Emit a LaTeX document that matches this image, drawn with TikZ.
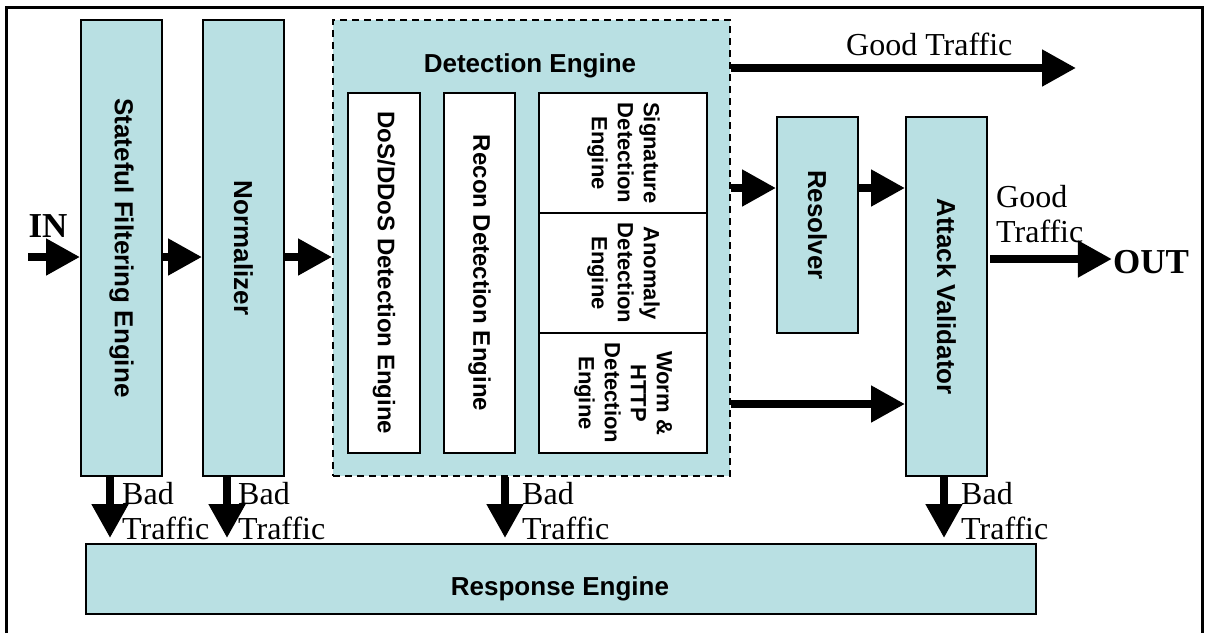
\documentclass[tikz,border=0pt]{standalone}
\usepackage{fontspec}
\setmainfont{Liberation Serif}
\newfontfamily\sansbold{Liberation Sans}
\usetikzlibrary{arrows.meta}
\definecolor{boxfill}{RGB}{185,224,227}

\begin{document}
\begin{tikzpicture}[x=1pt,y=-1pt,
  blk/.style={draw=black, line width=2pt, fill=boxfill, inner sep=0pt, anchor=north west,
    font=\sansbold\bfseries\fontsize{26}{30}\selectfont},
  sub/.style={blk, fill=white, font=\sansbold\bfseries\fontsize{24}{28}\selectfont},
  subm/.style={blk, fill=white, font=\sansbold\bfseries\fontsize{22}{26}\selectfont},
  title/.style={inner sep=0pt, font=\sansbold\bfseries\fontsize{26}{30}\selectfont},
  flow/.style={line width=8pt, -{Triangle[length=34pt,width=35pt]}},
  lbl/.style={font=\fontsize{32}{35}\selectfont, inner sep=0pt, align=left},
  io/.style={font=\bfseries\fontsize{35}{40}\selectfont, inner sep=1pt}
]
\useasboundingbox (0,0) rectangle (1207,633);
\fill[white] (0,0) rectangle (1207,633);

% outer frame (open at the bottom)
\draw[line width=3pt] (6.5,633) -- (6.5,7) -- (1202,7) -- (1202,633);

% main processing blocks
\node[blk, minimum width=81pt, minimum height=456pt] (sfe) at (80,19)
  {\rotatebox{-90}{Stateful Filtering Engine}};
\node[blk, minimum width=81pt, minimum height=456pt] (norm) at (202,19)
  {\rotatebox{-90}{Normalizer}};
\node[blk, line width=1.6pt, dash pattern=on 7pt off 5pt, minimum width=397pt, minimum height=456pt] (de) at (332,19) {};
\node[title] (detitle) at (530,65.5) {Detection Engine};

% sub-engines of the detection engine
\node[sub, minimum width=72pt, minimum height=360pt] (dos) at (347,92)
  {\rotatebox{-90}{DoS/DDoS Detection Engine}};
\node[sub, minimum width=71pt, minimum height=360pt] (recon) at (443,92)
  {\rotatebox{-90}{Recon Detection Engine}};
\node[subm, minimum width=168pt, minimum height=120pt] (sig) at (538,92)
  {\rotatebox{-90}{\begin{tabular}{@{}c@{}}Signature\\Detection\\Engine\end{tabular}}};
\node[subm, minimum width=168pt, minimum height=120pt] (ano) at (538,212)
  {\rotatebox{-90}{\begin{tabular}{@{}c@{}}Anomaly\\Detection\\Engine\end{tabular}}};
\node[subm, minimum width=168pt, minimum height=120pt] (worm) at (538,332)
  {\rotatebox{-90}{\begin{tabular}{@{}c@{}}Worm \&\\HTTP\\Detection\\Engine\end{tabular}}};

\node[blk, minimum width=81pt, minimum height=216pt] (res) at (776,116)
  {\rotatebox{-90}{Resolver}};
\node[blk, minimum width=81pt, minimum height=359pt] (av) at (905,116)
  {\rotatebox{-90}{Attack Validator}};
\node[blk, minimum width=950pt, minimum height=70pt] (resp) at (85,543) {};
\node[title] (resptitle) at (560,588.5) {Response Engine};

% input / output
\node[io] (in) at (48,226) {IN};
\node[io] (out) at (1151,262) {OUT};

% flow levels and columns
\coordinate (src) at (28,257);
\coordinate (lvl) at (0,257);
\coordinate (lvtop) at (0,68);
\coordinate (gt) at (1076,68);
\coordinate (lvres) at (0,188);
\coordinate (lvworm) at (0,404);
\coordinate (lvout) at (0,259);
\coordinate (c1) at (110,0);
\coordinate (c2) at (227,0);
\coordinate (c3) at (505,0);
\coordinate (c4) at (944,0);

% forward flow
\draw[flow] (src) -- (sfe.west |- lvl);
\draw[flow] (sfe.east |- lvl) -- (norm.west |- lvl);
\draw[flow] (norm.east |- lvl) -- (de.west |- lvl);
\draw[flow] (de.east |- lvtop) -- (gt);
\draw[flow] (de.east |- lvres) -- (res.west |- lvres);
\draw[flow] (res.east |- lvres) -- (av.west |- lvres);
\draw[flow] (de.east |- lvworm) -- (av.west |- lvworm);
\draw[flow] ([xshift=2pt]av.east |- lvout) -- (out.west |- lvout);

% bad traffic to the response engine
\draw[flow, shorten >=5pt] (sfe.south -| c1) -- (resp.north -| c1);
\draw[flow, shorten >=5pt] (norm.south -| c2) -- (resp.north -| c2);
\draw[flow, shorten >=5pt] (de.south -| c3) -- (resp.north -| c3);
\draw[flow, shorten >=5pt] (av.south -| c4) -- (resp.north -| c4);

% traffic labels
\node[lbl, anchor=base west] (goodtop) at (846,55) {Good Traffic};
\node[lbl, anchor=north west] (goodout) at (996,185) {Good\\Traffic};
\node[lbl, anchor=north west] (bad1) at (122,482) {Bad\\Traffic};
\node[lbl, anchor=north west] (bad2) at (238,482) {Bad\\Traffic};
\node[lbl, anchor=north west] (bad3) at (522,482) {Bad\\Traffic};
\node[lbl, anchor=north west] (bad4) at (961,482) {Bad\\Traffic};
\end{tikzpicture}
\end{document}
